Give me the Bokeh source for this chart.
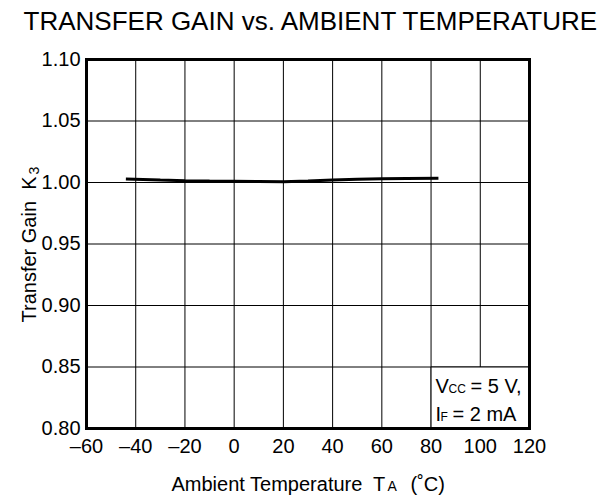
import math
from bokeh.plotting import figure
from bokeh.models import Range1d
from bokeh.core.properties import value
from bokeh.embed import file_html
from bokeh.resources import INLINE

# ---- data ----
temp = [-44, -30, -20, -10, 0, 10, 20, 30, 40, 50, 60, 70, 83]
gain = [1.0028, 1.002, 1.0015, 1.0012, 1.001, 1.0008, 1.0006, 1.0012, 1.002, 1.0027, 1.003, 1.0032, 1.0035]

x_ticks = [-60, -40, -20, 0, 20, 40, 60, 80, 100, 120]
x_tick_labels = ["–60", "–40", "–20", "0", "20", "40", "60", "80", "100", "120"]
y_ticks = [0.80, 0.85, 0.90, 0.95, 1.00, 1.05, 1.10]
y_tick_labels = ["0.80", "0.85", "0.90", "0.95", "1.00", "1.05", "1.10"]

title_text = "TRANSFER GAIN vs. AMBIENT TEMPERATURE"
xlabel_parts = ["Ambient Temperature\u00a0 T", "A", "(˚C)"]
ylabel_parts = ["Transfer Gain\u00a0 K", "3"]
cond1_parts = ["V", "CC", "= 5 V,"]
cond2_parts = ["I", "F", "= 2 mA"]
box_x = [80, 120]
box_y = [0.80, 0.85]

# ---- layout (pixels) ----
W, H = 608, 500
FL, FR, FT, FB = 86, 529, 59, 428          # chart box in canvas pixels
X0, X1 = x_ticks[0], x_ticks[-1]
Y0, Y1 = y_ticks[0], y_ticks[-1]
sx = (X1 - X0) / (FR - FL)
sy = (Y1 - Y0) / (FB - FT)
SHIFT = 0.4  # text renders ~0.4em below requested alphabetic baseline

def px(x):
    return X0 + (x - FL) * sx

def py(y):
    return Y0 + (FB - y) * sy

FONT = value("Liberation Sans")

p = figure(width=W, height=H, output_backend="svg", toolbar_location=None,
           x_range=Range1d(px(0), px(W)), y_range=Range1d(py(H), py(0)),
           min_border=0, x_axis_location=None, y_axis_location=None)
p.outline_line_color = None
p.background_fill_color = "white"
p.border_fill_color = "white"
p.xgrid.visible = False
p.ygrid.visible = False

# grid lines
gx = x_ticks[1:-1]
gy = y_ticks[1:-1]
p.segment(x0=gx, y0=[Y0] * len(gx), x1=gx, y1=[Y1] * len(gx), line_color="black", line_width=1)
p.segment(x0=[X0] * len(gy), y0=gy, x1=[X1] * len(gy), y1=gy, line_color="black", line_width=1)

# condition box
p.quad(left=[box_x[0]], right=[box_x[1]], bottom=[box_y[0]], top=[box_y[1]],
       fill_color="white", line_color="black", line_width=1)

# frame border
p.quad(left=[X0], right=[X1], bottom=[Y0], top=[Y1], fill_color=None,
       line_color="black", line_width=3, line_join="miter")

# curve
p.line(temp, gain, line_color="black", line_width=3)

# tick labels
p.text(x=x_ticks, y=[py(453 - SHIFT * 20)] * len(x_ticks), text=x_tick_labels, text_font=FONT,
       text_font_size="20px", text_align="center", text_baseline="alphabetic", text_color="black")
p.text(x=[px(80)] * len(y_ticks), y=y_ticks, text=y_tick_labels, text_font=FONT,
       text_font_size="20px", text_align="right", text_baseline="middle", text_color="black",
       y_offset=-1)

def t(xp, yp, text, size, align="left", angle=0.0):
    s = float(size.replace("px", ""))
    if angle:
        xp = xp - SHIFT * s
    else:
        yp = yp - SHIFT * s
    p.text(x=[px(xp)], y=[py(yp)], text=[text], text_font=FONT, text_font_size=size,
           text_align=align, text_baseline="alphabetic", angle=angle, text_color="black")

# title
t(311, 31, title_text, "26px", align="center")

# x label
t(171, 491, xlabel_parts[0], "20px")
t(387, 491, xlabel_parts[1], "14px")
t(410, 491, xlabel_parts[2], "20px")

# y label
t(36, 322, ylabel_parts[0], "20px", angle=math.pi / 2)
t(39, 174, ylabel_parts[1], "14px", angle=math.pi / 2)

# conditions
t(435, 393, cond1_parts[0], "20px")
t(448, 393, cond1_parts[1], "12px")
t(470, 393, cond1_parts[2], "20px")
t(435, 421, cond2_parts[0], "20px")
t(440, 421, cond2_parts[1], "12px")
t(452, 421, cond2_parts[2], "20px")

open("out.html", "w").write(file_html(p, INLINE))
